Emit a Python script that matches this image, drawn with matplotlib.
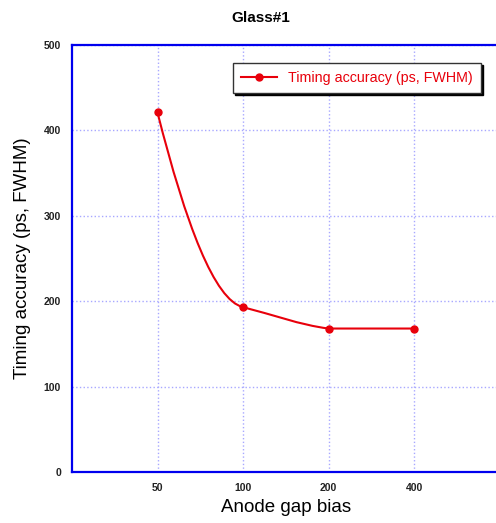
import numpy as np
import matplotlib.pyplot as plt
from matplotlib.path import Path
from matplotlib.patches import PathPatch
from matplotlib.lines import Line2D

plt.rcParams['font.family'] = ['Liberation Sans', 'DejaVu Sans']

bias_labels = ['50', '100', '200', '400']
timing_ps = [421, 193, 168, 168]
y_ticks = [0, 100, 200, 300, 400, 500]

RED = '#e8000b'


def smooth_path(xs, ys, end_tension=1.2):
    # cubic through the points as bezier segments; flat runs stay straight
    xs = np.asarray(xs, float)
    ys = np.asarray(ys, float)
    h = np.diff(xs)
    d = np.diff(ys) / h
    m = np.zeros_like(ys)
    for i in range(1, len(ys) - 1):
        if d[i - 1] * d[i] > 0:
            m[i] = d[i - 1] if abs(d[i - 1]) < abs(d[i]) else d[i]
        else:
            m[i] = (d[i - 1] + d[i]) / 2
    m[0] = end_tension * ((2 * h[0] + h[1]) * d[0] - h[0] * d[1]) / (h[0] + h[1])
    verts = [(xs[0], ys[0])]
    codes = [Path.MOVETO]
    for i in range(len(xs) - 1):
        if d[i] == 0:
            verts.append((xs[i + 1], ys[i + 1]))
            codes.append(Path.LINETO)
            continue
        verts += [(xs[i] + h[i] / 3, ys[i] + m[i] * h[i] / 3),
                  (xs[i + 1] - h[i] / 3, ys[i + 1] - m[i + 1] * h[i] / 3),
                  (xs[i + 1], ys[i + 1])]
        codes += [Path.CURVE4] * 3
    return Path(verts, codes)


fig = plt.figure(figsize=(4.96, 5.23), dpi=100)
ax = fig.add_axes([72 / 496, 51 / 523, 427.5 / 496, 427 / 523])

pos = np.arange(1, len(bias_labels) + 1)
ax.add_patch(PathPatch(smooth_path(pos, timing_ps), facecolor='none',
                       edgecolor=RED, lw=1.5, zorder=3))
ax.plot(pos, timing_ps, 'o', color=RED, ms=5, zorder=4)

ax.set_xlim(0, 5)
ax.set_ylim(0, 500)
ax.set_xticks(pos)
ax.set_xticklabels(bias_labels)
ax.set_yticks(y_ticks)
ax.tick_params(length=0, labelsize=7.5, pad=8)
for lab in ax.get_xticklabels() + ax.get_yticklabels():
    lab.set_color('#222222')
    lab.set_fontweight('bold')

ax.grid(True, color='#a8a8ff', linestyle=':', lw=1.0)
for s in ax.spines.values():
    s.set_color('#0000ee')
    s.set_linewidth(1.6)

ax.set_xlabel('Anode gap bias', fontsize=13.5, labelpad=4)
ax.set_ylabel('Timing accuracy (ps, FWHM)', fontsize=13.5, labelpad=9)
fig.text(261 / 496, 1 - 18 / 523, 'Glass#1', ha='center', va='center',
         fontsize=11, fontweight='bold')

handle = Line2D([], [], color=RED, marker='o', ms=5, lw=1.5)
leg = ax.legend([handle], ['Timing accuracy (ps, FWHM)'], loc='center',
                bbox_to_anchor=(0.667, 0.923), fontsize=10.3, fancybox=False,
                shadow={'color': 'black', 'alpha': 1, 'ox': 1.5, 'oy': -1.5},
                framealpha=1, handlelength=2.5, borderpad=0.55)
leg.get_frame().set_edgecolor('#333333')
leg.get_frame().set_linewidth(1.0)
for t in leg.get_texts():
    t.set_color(RED)

fig.savefig('out.png', dpi=100)
